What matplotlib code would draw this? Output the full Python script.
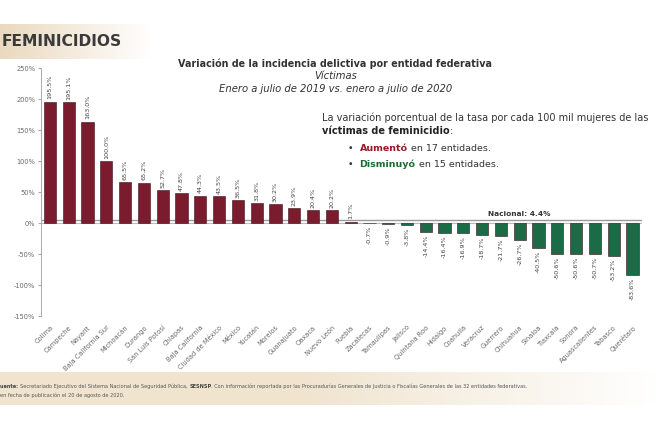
import matplotlib
matplotlib.use("Agg")
import matplotlib.pyplot as plt
import numpy as np

estados = ["Colima", "Campeche", "Nayarit", "Baja California Sur", "Michoacán",
           "Durango", "San Luis Potosí", "Chiapas", "Baja California",
           "Ciudad de México", "México", "Yucatán", "Morelos", "Guanajuato",
           "Oaxaca", "Nuevo León", "Puebla", "Zacatecas", "Tamaulipas", "Jalisco",
           "Quintana Roo", "Hidalgo", "Coahuila", "Veracruz", "Guerrero",
           "Chihuahua", "Sinaloa", "Tlaxcala", "Sonora", "Aguascalientes",
           "Tabasco", "Querétaro"]
variacion = [195.5, 195.1, 163.0, 100.0, 65.5, 65.2, 52.7, 47.8, 44.3, 43.5,
             36.5, 31.8, 30.2, 23.9, 20.4, 20.2, 1.7, -0.7, -0.9, -3.8, -14.4,
             -16.4, -16.9, -18.7, -21.7, -26.7, -40.5, -50.6, -50.6, -50.7,
             -53.2, -83.6]
nacional = 4.4
yticks = [-150, -100, -50, 0, 50, 100, 150, 200, 250]

rojo = "#7a1c2e"
verde = "#1b6b47"
gris = "#6a6a6a"

fig = plt.figure(figsize=(6.6, 4.4), dpi=100)
fig.patch.set_facecolor("white")

# beige bands (title and footer)
band = fig.add_axes([0, 0.865, 0.23, 0.08], zorder=0)
grad = np.linspace(1, 0, 200).reshape(1, -1)
band.imshow(grad, aspect="auto", cmap=matplotlib.colors.LinearSegmentedColormap.from_list(
    "b", ["#ffffff", "#ead9bf"]), extent=[0, 1, 0, 1])
band.axis("off")
foot = fig.add_axes([0, 0.08, 1, 0.075], zorder=0)
grad2 = np.concatenate([np.ones(90), np.linspace(1, 0, 110)]).reshape(1, -1)
foot.imshow(grad2, aspect="auto", cmap=matplotlib.colors.LinearSegmentedColormap.from_list(
    "f", ["#ffffff", "#f0e4cf"]), extent=[0, 1, 0, 1])
foot.axis("off")

ax = fig.add_axes([0.0615, 0.2818, 0.911, 0.5636], zorder=1)
ax.patch.set_alpha(0)
x = np.arange(len(estados))
colores = [rojo if v > 0 else verde for v in variacion]
ax.bar(x, variacion, width=0.65, color=colores, edgecolor="#3a1018", linewidth=0.4, zorder=3)
ax.axhline(0, color="#bbbbbb", lw=0.8, zorder=2)
ax.axhline(nacional, color="#9a9a9a", lw=1.0, zorder=2)
ax.text(25, nacional + 6, "Nacional: 4.4%", fontsize=5.3, fontweight="bold",
        color="#333333", ha="center", va="bottom")

for xi, v in zip(x, variacion):
    if v >= 0:
        ax.text(xi, v + 4, f"{v:.1f}%", rotation=90, fontsize=4.6, color="#444444",
                ha="center", va="bottom")
    else:
        ax.text(xi, v - 4, f"{v:.1f}%", rotation=90, fontsize=4.6, color="#444444",
                ha="center", va="top")

ax.set_xlim(-0.5, len(estados) - 0.5)
ax.set_ylim(-150, 250)
ax.set_yticks(yticks)
ax.set_yticklabels([f"{t}%" for t in yticks], fontsize=4.8, color=gris)
ax.set_xticks(x)
ax.set_xticklabels(estados, rotation=45, ha="right", rotation_mode="anchor",
                   fontsize=4.8, color=gris)
ax.tick_params(axis="x", length=0, pad=6)
ax.tick_params(axis="y", length=2, color="#aaaaaa", pad=2)
for s in ["top", "right", "bottom"]:
    ax.spines[s].set_visible(False)
ax.spines["left"].set_color("#aaaaaa")
ax.spines["left"].set_linewidth(0.7)

# titles
fig.text(0.002, 0.905, "FEMINICIDIOS", fontsize=11.2, fontweight="bold", color="#3a3a3a",
         ha="left", va="center")
fig.text(0.508, 0.855, "Variación de la incidencia delictiva por entidad federativa",
         fontsize=6.9, fontweight="bold", color="#333333", ha="center", va="center")
fig.text(0.508, 0.827, "Víctimas", fontsize=7.2, style="italic", color="#333333",
         ha="center", va="center")
fig.text(0.508, 0.798, "Enero a julio de 2019 vs. enero a julio de 2020", fontsize=7.2,
         style="italic", color="#333333", ha="center", va="center")

# side note with mixed styles
renderer = fig.canvas.get_renderer()

def run(xpx, ypx, parts, size=7.0):
    for txt, kw in parts:
        t = fig.text(xpx / 660, 1 - ypx / 440, txt, fontsize=size, va="center", ha="left", **kw)
        bb = t.get_window_extent(renderer)
        xpx += bb.width

run(322, 118, [("La variación porcentual de la tasa por cada 100 mil mujeres de las",
                dict(color="#333333"))])
run(322, 131, [("víctimas de feminicidio", dict(color="#222222", fontweight="bold")),
               (":", dict(color="#333333"))])
run(348, 148, [("•  ", dict(color="#333333")),
               ("Aumentó", dict(color="#9a1b2a", fontweight="bold")),
               (" en 17 entidades.", dict(color="#333333"))], size=6.8)
run(348, 164, [("•  ", dict(color="#333333")),
               ("Disminuyó", dict(color="#1e6b3a", fontweight="bold")),
               (" en 15 entidades.", dict(color="#333333"))], size=6.8)

# footer
fp = 3.6
run(0, 386, [("uente: ", dict(color="#444444", fontweight="bold")),
             ("Secretariado Ejecutivo del Sistema Nacional de Seguridad Pública, ",
              dict(color="#555555")),
             ("SESNSP", dict(color="#444444", fontweight="bold")),
             (". Con información reportada por las Procuradurías Generales de Justicia o "
              "Fiscalías Generales de las 32 entidades federativas.", dict(color="#555555"))],
    size=fp)
run(0, 395, [("en fecha de publicación el 20 de agosto de 2020.", dict(color="#555555"))],
    size=fp)

fig.savefig("out.png", dpi=100)
